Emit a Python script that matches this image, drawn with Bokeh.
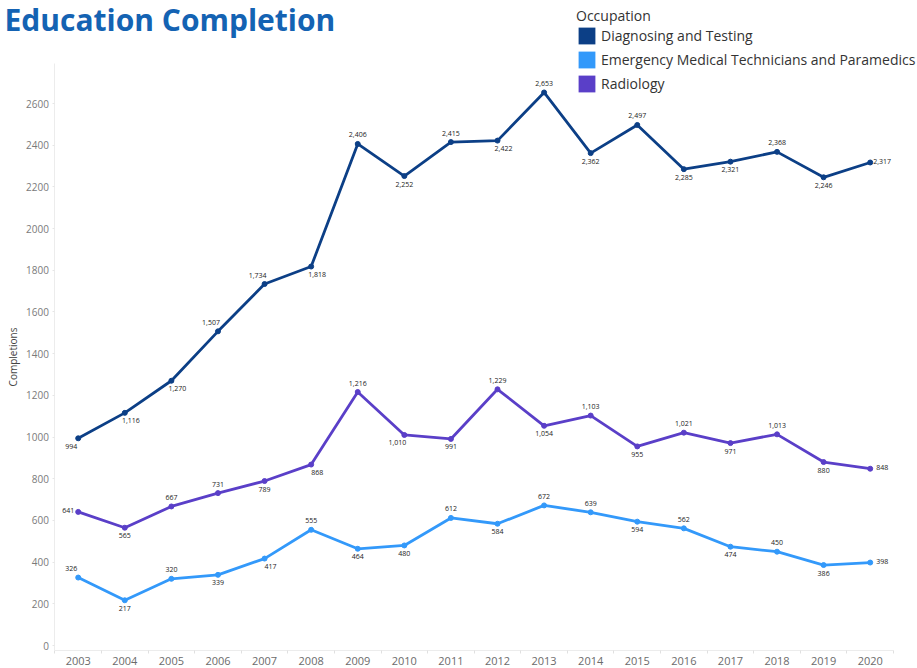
from bokeh.plotting import figure
from bokeh.models import (ColumnDataSource, Range1d, FixedTicker, Legend, LegendItem,
                          Label, BasicTickFormatter)
from bokeh.core.properties import value
from bokeh.embed import file_html
from bokeh.resources import INLINE

years = list(range(2003, 2021))
diagnosing = [994, 1116, 1270, 1507, 1734, 1818, 2406, 2252, 2415, 2422, 2653, 2362, 2497, 2285, 2321, 2368, 2246, 2317]
emt = [326, 217, 320, 339, 417, 555, 464, 480, 612, 584, 672, 639, 594, 562, 474, 450, 386, 398]
radiology = [641, 565, 667, 731, 789, 868, 1216, 1010, 991, 1229, 1054, 1103, 955, 1021, 971, 1013, 880, 848]
series_names = ["Diagnosing and Testing", "Emergency Medical Technicians and Paramedics", "Radiology"]
y_ticks = list(range(0, 2601, 200))

# label placement codes (style only)
pos_diag = ['bl', 'br', 'br', 'al', 'al', 'br', 'a', 'b', 'a', 'br', 'a', 'b', 'a', 'b', 'b', 'a', 'b', 'r']
pos_emt = ['al', 'b', 'a', 'b', 'br', 'a', 'b', 'b', 'a', 'b', 'a', 'a', 'b', 'a', 'b', 'a', 'b', 'r']
pos_rad = ['l', 'b', 'a', 'a', 'b', 'br', 'a', 'bl', 'b', 'a', 'b', 'a', 'b', 'a', 'b', 'a', 'b', 'r']
OFF = {'a': (0, -9), 'b': (0, 8), 'al': (-7, -9), 'br': (6, 8), 'bl': (-7, 8), 'r': (12, -1), 'l': (-10, -1)}

colors = ["#0c3f86", "#3399fa", "#5a3fc8"]

W, H = 917, 668
X0, X1 = 2001.332, 2021.015
Y0, Y1 = -110.3, 3094.1
X_AXIS_AT = -24.0
Y_AXIS_AT = 2002.5

p = figure(width=W, height=H, output_backend="svg", toolbar_location=None,
           x_range=Range1d(X0, X1), y_range=Range1d(Y0, Y1),
           min_border_left=0, min_border_right=0, min_border_top=0, min_border_bottom=0)
p.outline_line_color = None
p.xgrid.grid_line_color = None
p.ygrid.grid_line_color = None

FONT = "Open Sans"

# axes (drawn inside the frame at fixed data locations)
xa = p.xaxis[0]
xa.fixed_location = X_AXIS_AT
xa.bounds = (years[0] - 0.5, years[-1] + 0.5)
xa.ticker = FixedTicker(ticks=years, minor_ticks=[y - 0.5 for y in years] + [years[-1] + 0.5])
xa.major_tick_line_color = None
xa.minor_tick_in = 0
xa.minor_tick_out = 3
xa.minor_tick_line_color = "#e0e0e0"
xa.axis_line_color = "#ececec"
xa.major_label_text_font = FONT
xa.major_label_text_font_size = "11px"
xa.major_label_text_color = "#6b6b6b"
xa.major_label_standoff = 0

ya = p.yaxis[0]
ya.fixed_location = Y_AXIS_AT
ya.bounds = (X_AXIS_AT, 2792)
ya.ticker = FixedTicker(ticks=y_ticks)
ya.formatter = BasicTickFormatter(use_scientific=False)
ya.major_tick_in = 0
ya.major_tick_out = 2
ya.major_tick_line_color = "#e6e6e6"
ya.minor_tick_line_color = None
ya.axis_line_color = "#ececec"
ya.major_label_text_font = FONT
ya.major_label_text_font_size = "10px"
ya.major_label_text_color = "#7a7a7a"
ya.major_label_standoff = 4
ya.axis_label = "Completions"
ya.axis_label_text_font = FONT
ya.axis_label_text_font_size = "10px"
ya.axis_label_text_font_style = "normal"
ya.axis_label_text_color = "#444444"
ya.axis_label_standoff = 3

all_series = [diagnosing, emt, radiology]
all_pos = [pos_diag, pos_emt, pos_rad]

items = []
for name, vals, pos, col in zip(series_names, all_series, all_pos, colors):
    src = ColumnDataSource(dict(
        x=years, y=vals,
        lab=[f"{v:,}" for v in vals],
        dx=[OFF[c][0] for c in pos],
        dy=[OFF[c][1] for c in pos],
    ))
    p.line("x", "y", source=src, line_color=col, line_width=2.8)
    p.scatter("x", "y", source=src, size=5, color=col)
    p.text("x", "y", text="lab", source=src, x_offset="dx", y_offset="dy",
           text_align="center", text_baseline="middle",
           text_font=value(FONT), text_font_size="7px", text_color="#222222")
    # zero-area quads: only used for the square legend swatch
    sw = p.quad(left="x", right="x", top="y", bottom="y", source=src,
                fill_color=col, line_color=None)
    items.append(LegendItem(label=name, renderers=[sw]))

legend = Legend(items=items, location=(576, 574), title="Occupation",
                title_text_font=FONT, title_text_font_size="14px", title_text_color="#333333",
                title_text_font_style="normal", title_standoff=0,
                label_text_font=FONT, label_text_font_size="14px", label_text_color="#333333",
                glyph_width=21, glyph_height=21, label_standoff=4, spacing=3,
                padding=0, margin=0, border_line_color=None, background_fill_alpha=0)
p.add_layout(legend)

title = Label(x=4, y=H + 2, x_units="screen", y_units="screen", text="Education Completion",
              text_font=FONT, text_font_size="30px", text_font_style="bold",
              text_color="#1463b3", text_baseline="top")
p.add_layout(title)

open("out.html", "w").write(file_html(p, INLINE))
